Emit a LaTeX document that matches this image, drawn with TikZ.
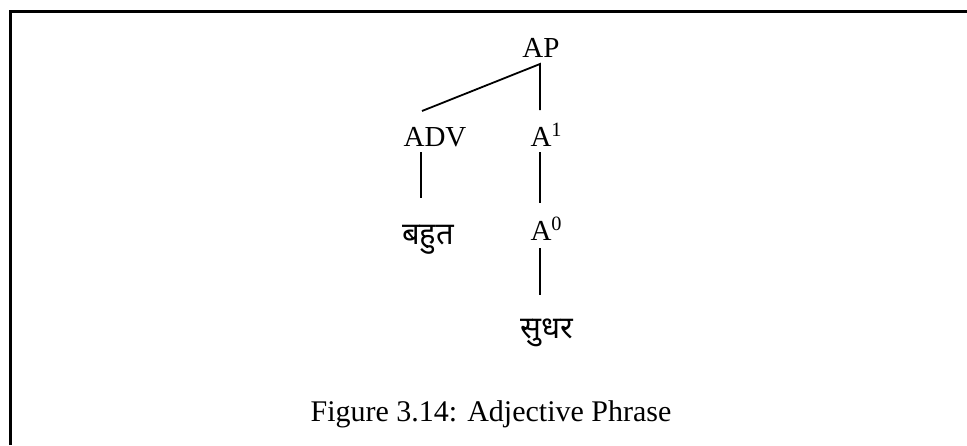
\documentclass[tikz,border=0pt]{standalone}
\usepackage{fontspec}
\setmainfont{Liberation Serif}
\newfontfamily\devfont[Script=Devanagari]{Noto Sans}
\tikzset{
  lbl/.style={inner sep=0pt, anchor=base, font=\fontsize{29}{34}\selectfont},
  dev/.style={inner sep=0pt, anchor=base, font=\devfont\fontsize{31}{36}\selectfont},
  capt/.style={inner sep=0pt, anchor=base, font=\fontsize{30}{35}\selectfont},
  edge/.style={line width=1.8pt},
  frame/.style={line width=3pt}
}
\begin{document}
\begin{tikzpicture}[x=1pt,y=-1pt]
\useasboundingbox (0,0) rectangle (967,445);
\draw[frame] (10,445) -- (10,11) -- (967,11);
\node[lbl] (AP) at (541,57) {AP};
\node[lbl] (ADV) at (435,146) {ADV};
\node[lbl] (A1) at (541,146) {A\rlap{\textsuperscript{1}}};
\node[lbl] (A0) at (541,240) {A\rlap{\textsuperscript{0}}};
\node[dev] (bahut) at (428,244) {बहुत};
\node[dev] (sundar) at (547,338) {सुधर};
\node[capt] (cap) at (491,421) {Figure 3.14: Adjective Phrase};
\draw[edge] ([xshift=-13pt,yshift=35pt]ADV.base) -- ([xshift=-1pt,yshift=-7pt]AP.base) -- ([xshift=-1pt,yshift=36pt]A1.base);
\draw[edge] ([xshift=-14pt,yshift=-6pt]ADV.base) -- ([xshift=-7pt,yshift=46pt]bahut.base);
\draw[edge] ([xshift=-1pt,yshift=-6pt]A1.base) -- ([xshift=-1pt,yshift=37pt]A0.base);
\draw[edge] ([xshift=-1pt,yshift=-8pt]A0.base) -- ([xshift=-7pt,yshift=43pt]sundar.base);
\end{tikzpicture}
\end{document}
